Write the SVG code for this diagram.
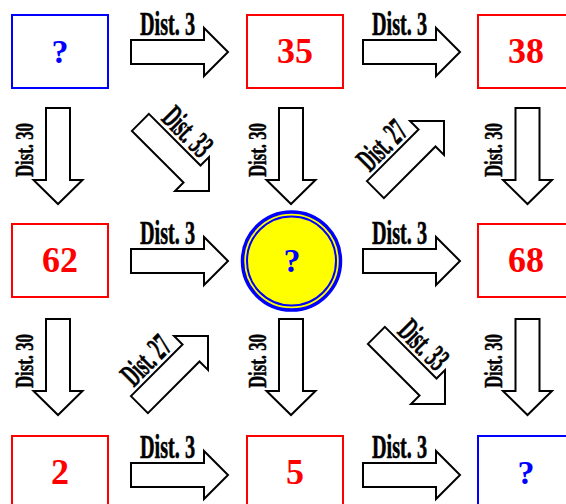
<svg xmlns="http://www.w3.org/2000/svg" width="566" height="504" viewBox="0 0 566 504">
<style>
.box{fill:#fff;stroke-width:2}
.red{stroke:#ff0000}
.blue{stroke:#0000ff}
.num{font-family:"Liberation Serif",serif;font-weight:bold;font-size:36px;fill:#ff0000;text-anchor:middle}
.q{font-family:"Liberation Serif",serif;font-weight:bold;font-size:34px;fill:#0000ff;text-anchor:middle}
.arr{fill:#fff;stroke:#000;stroke-width:2;stroke-linejoin:miter}
.lbl{font-family:"Liberation Serif",serif;font-weight:bold;font-size:33px;fill:#000;stroke:#000;stroke-width:0.6}
.vl{font-family:"Liberation Serif",serif;font-weight:bold;font-size:26px;fill:#000;stroke:#000;stroke-width:0.5;text-anchor:middle}
</style>
<defs>
<path id="ar" class="arr" d="M0,-12 H73 V-24 L97,0 L73,24 V12 H0 Z"/>
<path id="va" class="arr" d="M-12,0 V72 H-24.5 L0,96 L24.5,72 H12 V0 Z"/>
</defs>
<rect width="566" height="504" fill="#fff"/>
<g id="connectors">
<g transform="translate(131,52)"><use href="#ar"/><text class="lbl" x="9" y="-17" textLength="55" lengthAdjust="spacingAndGlyphs">Dist. 3</text></g>
<g transform="translate(363,52)"><use href="#ar"/><text class="lbl" x="9" y="-17" textLength="55" lengthAdjust="spacingAndGlyphs">Dist. 3</text></g>
<g transform="translate(131,261)"><use href="#ar"/><text class="lbl" x="9" y="-17" textLength="55" lengthAdjust="spacingAndGlyphs">Dist. 3</text></g>
<g transform="translate(363,261)"><use href="#ar"/><text class="lbl" x="9" y="-17" textLength="55" lengthAdjust="spacingAndGlyphs">Dist. 3</text></g>
<g transform="translate(131,475)"><use href="#ar"/><text class="lbl" x="9" y="-17" textLength="55" lengthAdjust="spacingAndGlyphs">Dist. 3</text></g>
<g transform="translate(363,475)"><use href="#ar"/><text class="lbl" x="9" y="-17" textLength="55" lengthAdjust="spacingAndGlyphs">Dist. 3</text></g>

<g transform="translate(58,108)"><use href="#va"/><text class="vl" transform="translate(-25,42) rotate(-90)" textLength="54" lengthAdjust="spacingAndGlyphs">Dist. 30</text></g>
<g transform="translate(291,108)"><use href="#va"/><text class="vl" transform="translate(-25,42) rotate(-90)" textLength="54" lengthAdjust="spacingAndGlyphs">Dist. 30</text></g>
<g transform="translate(527.5,108)"><use href="#va"/><text class="vl" transform="translate(-26,42) rotate(-90)" textLength="54" lengthAdjust="spacingAndGlyphs">Dist. 30</text></g>
<g transform="translate(58,319)"><use href="#va"/><text class="vl" transform="translate(-25,42) rotate(-90)" textLength="54" lengthAdjust="spacingAndGlyphs">Dist. 30</text></g>
<g transform="translate(291,319)"><use href="#va"/><text class="vl" transform="translate(-25,42) rotate(-90)" textLength="54" lengthAdjust="spacingAndGlyphs">Dist. 30</text></g>
<g transform="translate(527.5,319)"><use href="#va"/><text class="vl" transform="translate(-26,42) rotate(-90)" textLength="54" lengthAdjust="spacingAndGlyphs">Dist. 30</text></g>

<g transform="translate(140.4,122.4) rotate(45)"><use href="#ar"/><text class="lbl" x="12" y="-16" textLength="56" lengthAdjust="spacingAndGlyphs">Dist. 33</text></g>
<g transform="translate(375.4,189.6) rotate(-45)"><use href="#ar"/><text class="lbl" x="8" y="-16" textLength="56" lengthAdjust="spacingAndGlyphs">Dist. 27</text></g>
<g transform="translate(139.4,404.6) rotate(-45)"><use href="#ar"/><text class="lbl" x="8" y="-16" textLength="56" lengthAdjust="spacingAndGlyphs">Dist. 27</text></g>
<g transform="translate(376.4,335.4) rotate(45)"><use href="#ar"/><text class="lbl" x="12" y="-16" textLength="56" lengthAdjust="spacingAndGlyphs">Dist. 33</text></g>
</g>

<g id="n-q1"><rect class="box blue" x="12" y="15" width="96" height="73"/><text class="q" x="60" y="63">?</text></g>
<g id="n-35"><rect class="box red" x="247" y="15" width="96" height="73"/><text class="num" x="295" y="63">35</text></g>
<g id="n-38"><rect class="box red" x="478" y="15" width="96" height="73"/><text class="num" x="526" y="63">38</text></g>
<g id="n-62"><rect class="box red" x="12" y="224" width="96" height="73"/><text class="num" x="60" y="272">62</text></g>
<g id="n-center"><circle cx="291.5" cy="261" r="49" fill="#ffff00" stroke="#0000ff" stroke-width="3.5"/><circle cx="291.5" cy="261" r="44.5" fill="none" stroke="#0000ff" stroke-width="2"/><text class="q" x="292" y="272">?</text></g>
<g id="n-68"><rect class="box red" x="478" y="224" width="96" height="73"/><text class="num" x="526" y="272">68</text></g>
<g id="n-2"><rect class="box red" x="12" y="436" width="96" height="73"/><text class="num" x="60" y="484">2</text></g>
<g id="n-5"><rect class="box red" x="247" y="436" width="96" height="73"/><text class="num" x="295" y="484">5</text></g>
<g id="n-q2"><rect class="box blue" x="478" y="436" width="96" height="73"/><text class="q" x="526" y="484">?</text></g>
</svg>
